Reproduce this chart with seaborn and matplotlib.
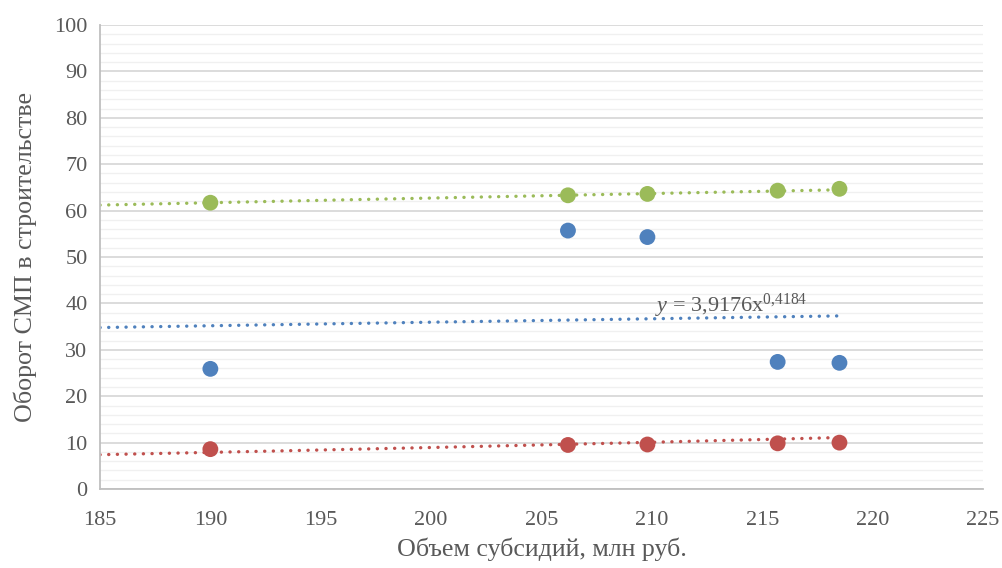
import numpy as np
import pandas as pd
import matplotlib
matplotlib.use("Agg")
import matplotlib.pyplot as plt
import seaborn as sns


# -------------------------------------------------------------------------------------------
# Данные

subsidies = [190.0, 206.2, 209.8, 215.7, 218.5]

green_vals = [61.7, 63.3, 63.6, 64.3, 64.7]
blue_vals = [25.9, 55.7, 54.3, 27.4, 27.2]
red_vals = [8.6, 9.5, 9.6, 9.85, 10.0]

# степенные тренды y = a * x^b
green_trend = (11.78, 0.3156)
blue_trend = (3.9176, 0.4184)
red_trend = (2.209e-5, 2.437)

series_names = ["green", "blue", "red"]
colors = {"green": "#9BBB59", "blue": "#4F81BD", "red": "#C0504D"}


# -------------------------------------------------------------------------------------------
# Таблица

df = pd.DataFrame({
    "x": subsidies * 3,
    "y": green_vals + blue_vals + red_vals,
    "series": [s for s in series_names for _ in subsidies],
})


# -------------------------------------------------------------------------------------------
# График

sns.set_style("white")
plt.rcParams["font.family"] = ["Liberation Serif", "DejaVu Serif"]
plt.rcParams["mathtext.fontset"] = "custom"
plt.rcParams["mathtext.rm"] = "Liberation Serif"
plt.rcParams["mathtext.it"] = "Liberation Serif:italic"

text_color = "#595959"

fig = plt.figure(figsize=(10.03, 5.68), dpi=100)
ax = fig.add_axes([0.0997, 0.139, 0.8803, 0.817])

ax.set_xlim(185, 225)
ax.set_ylim(0, 100)
ax.set_xticks(np.arange(185, 226, 5))
ax.set_yticks(np.arange(0, 101, 10))
ax.set_yticks(np.arange(0, 101, 2), minor=True)

ax.grid(True, which="major", axis="y", color="#D9D9D9", linewidth=1.3, zorder=0)
ax.grid(True, which="minor", axis="y", color="#F0F0F0", linewidth=1.0, zorder=0)
ax.set_axisbelow(True)

# тренды
x_trend = np.linspace(185, max(subsidies), 200)
for name, (a, b) in zip(series_names, [green_trend, blue_trend, red_trend]):
    ax.plot(x_trend, a * x_trend ** b, color=colors[name], linewidth=2.4,
            linestyle=(0, (0.05, 2.55)), dash_capstyle="round", zorder=2)

sns.scatterplot(data=df, x="x", y="y", hue="series", palette=colors,
                s=130, edgecolor="none", legend=False, ax=ax, zorder=3)

ax.text(210.15, 38.2, r"$y$ = 3,9176x$^{\mathrm{0{,}4184}}$", fontsize=16,
        color=text_color, ha="left", va="baseline")

for side in ["top", "right"]:
    ax.spines[side].set_visible(False)
for side in ["left", "bottom"]:
    ax.spines[side].set_color("#BFBFBF")
    ax.spines[side].set_linewidth(1.3)

ax.tick_params(axis="both", which="major", labelsize=16, labelcolor=text_color,
               color="#BFBFBF", length=5, width=1.2, direction="out")
ax.tick_params(axis="y", which="minor", length=0)
ax.tick_params(axis="y", which="major", pad=4)
ax.tick_params(axis="x", which="major", pad=11)

ax.set_xlabel("Объем субсидий, млн руб.", fontsize=18.7, color=text_color, labelpad=5)
ax.set_ylabel("Оборот СМП в строительстве", fontsize=18.7, color=text_color, labelpad=12)

plt.savefig("out.png", dpi=100)
print("Saved: out.png")
